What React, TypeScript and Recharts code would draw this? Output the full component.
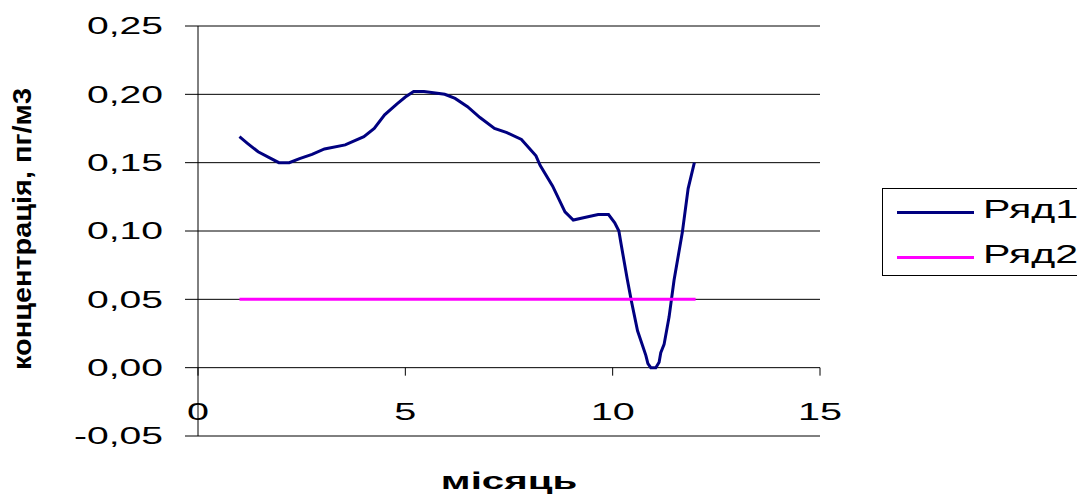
import React from "react";
import {
  LineChart,
  Line,
  XAxis,
  YAxis,
  CartesianGrid,
  Legend,
  Label,
} from "recharts";

// Ряд1 — measured concentration through the year
const month1 = [
  1, 1.2, 1.45, 1.95, 2.2, 2.45, 2.75, 3.05, 3.55, 4.0, 4.25, 4.5, 4.8, 5.0,
  5.2, 5.45, 5.95, 6.2, 6.5, 6.8, 7.15, 7.45, 7.8, 8.15, 8.25, 8.55, 8.85,
  9.05, 9.35, 9.65, 9.9, 10.05, 10.15, 10.2, 10.35, 10.45, 10.6, 10.8, 10.85,
  10.92, 11.04, 11.12, 11.16, 11.24, 11.36, 11.48, 11.68, 11.82, 11.97,
];
const conc1 = [
  0.169, 0.164, 0.158, 0.15, 0.15, 0.153, 0.156, 0.16, 0.163, 0.169, 0.175,
  0.185, 0.193, 0.198, 0.202, 0.202, 0.2, 0.197, 0.191, 0.183, 0.175, 0.172,
  0.167, 0.155, 0.148, 0.133, 0.114, 0.108, 0.11, 0.112, 0.112, 0.106, 0.1,
  0.091, 0.065, 0.049, 0.027, 0.009, 0.003, 0.0, 0.0, 0.004, 0.011, 0.017,
  0.037, 0.064, 0.099, 0.131, 0.15,
];

// Ряд2 — limit level
const month2 = [1, 2, 3, 4, 5, 6, 7, 8, 9, 10, 11, 12];
const conc2 = [0.05, 0.05, 0.05, 0.05, 0.05, 0.05, 0.05, 0.05, 0.05, 0.05, 0.05, 0.05];

const xTicks = [0, 5, 10, 15];
const yTicks = [-0.05, 0, 0.05, 0.1, 0.15, 0.2, 0.25];
const seriesNames = ["Ряд1", "Ряд2"];
const seriesColors = ["#000080", "#FF00FF"];

const series1 = month1.map((x, i) => ({ x, y: conc1[i] }));
const series2 = month2.map((x, i) => ({ x, y: conc2[i] }));

const W = 1077;
const H = 494;
const MARGIN = { top: 26, right: 257, bottom: 0, left: 0 };
const Y_AXIS_W = 198;
const X_AXIS_H = 58;
const Y_MIN = -0.05;
const Y_MAX = 0.25;
const PLOT_H = H - MARGIN.top - MARGIN.bottom - X_AXIS_H;
// x axis crosses at y = 0, this far above the bottom of the plot
const ZERO_UP = (PLOT_H * (0 - Y_MIN)) / (Y_MAX - Y_MIN);

const FONT = "'Liberation Sans', Arial, sans-serif";
const STRETCH = 1.75;

const fmt = (v: number) => v.toFixed(2).replace(".", ",");

const YTick = ({ x, y, payload }: any) => (
  <g transform={`translate(${x},${y}) scale(1.7,1)`}>
    <text textAnchor="end" dy="0.36em" fontSize={23} fontFamily={FONT} fill="#000">
      {fmt(payload.value)}
    </text>
  </g>
);

const XTick = ({ x, y, payload }: any) => {
  const y0 = y - ZERO_UP;
  return (
    <g>
      <line x1={x} x2={x} y1={y0} y2={y0 + 8} stroke="#000" strokeWidth={1} />
      <g transform={`translate(${x},${y0 + 52}) scale(1.65,1)`}>
        <text textAnchor="middle" fontSize={24} fontFamily={FONT} fill="#000">
          {payload.value}
        </text>
      </g>
    </g>
  );
};

const XTitle = (props: any) => {
  const vb = props.viewBox || { x: 198, y: 436, width: 622 };
  return (
    <g transform={`translate(${vb.x + vb.width / 2},${vb.y + 53}) scale(${STRETCH},1)`}>
      <text textAnchor="middle" fontSize={23} fontWeight="bold" fontFamily={FONT} fill="#000">
        місяць
      </text>
    </g>
  );
};

const YTitle = (props: any) => {
  const vb = props.viewBox || { y: 26, height: 410 };
  const cy = vb.y + vb.height / 2 - 2;
  return (
    <text
      transform={`translate(31,${cy}) rotate(-90)`}
      textAnchor="middle"
      fontSize={25}
      fontWeight="bold"
      fontFamily={FONT}
      fill="#000"
      textLength={282}
      lengthAdjust="spacingAndGlyphs"
    >
      концентрація, пг/м3
    </text>
  );
};

const LegendBox = () => (
  <div
    style={{
      position: "relative",
      width: 220,
      height: 88,
      border: "1px solid #000",
      boxSizing: "border-box",
      background: "#fff",
      fontFamily: FONT,
    }}
  >
    {seriesNames.map((name, i) => (
      <React.Fragment key={name}>
        <div
          style={{
            position: "absolute",
            left: 14,
            top: 21.5 + i * 45,
            width: 77,
            height: 3,
            background: seriesColors[i],
          }}
        />
        <div
          style={{
            position: "absolute",
            left: 100,
            top: 7 + i * 45,
            fontSize: 26,
            lineHeight: "26px",
            whiteSpace: "nowrap",
            color: "#000",
            transform: "scaleX(1.58)",
            transformOrigin: "left",
          }}
        >
          {name}
        </div>
      </React.Fragment>
    ))}
  </div>
);

export default function App() {
  return (
    <div
      style={{
        position: "absolute",
        left: 0,
        top: 0,
        width: W,
        height: H,
        overflow: "hidden",
        background: "#fff",
      }}
    >
      <LineChart width={W} height={H} margin={MARGIN}>
        <CartesianGrid horizontal vertical={false} stroke="#000" strokeWidth={1} />
        <XAxis
          type="number"
          dataKey="x"
          domain={[0, 15]}
          ticks={xTicks}
          height={X_AXIS_H}
          axisLine={false}
          tickLine={false}
          tickSize={0}
          tickMargin={0}
          tick={<XTick />}
          interval={0}
          allowDataOverflow
        >
          <Label content={<XTitle />} />
        </XAxis>
        <YAxis
          type="number"
          domain={[Y_MIN, Y_MAX]}
          ticks={yTicks}
          width={Y_AXIS_W}
          axisLine={{ stroke: "#000" }}
          tickLine={{ stroke: "#000" }}
          tickSize={13}
          tickMargin={22}
          tick={<YTick />}
          interval={0}
          allowDataOverflow
        >
          <Label content={<YTitle />} />
        </YAxis>
        <Legend
          layout="horizontal"
          align="center"
          verticalAlign="middle"
          content={<LegendBox />}
          wrapperStyle={{ left: 882, top: 188, width: 220, height: 88 }}
        />
        <Line
          data={series1}
          dataKey="y"
          name={seriesNames[0]}
          type="linear"
          stroke={seriesColors[0]}
          strokeWidth={3}
          dot={false}
          isAnimationActive={false}
        />
        <Line
          data={series2}
          dataKey="y"
          name={seriesNames[1]}
          type="linear"
          stroke={seriesColors[1]}
          strokeWidth={3}
          dot={false}
          isAnimationActive={false}
        />
      </LineChart>
    </div>
  );
}
